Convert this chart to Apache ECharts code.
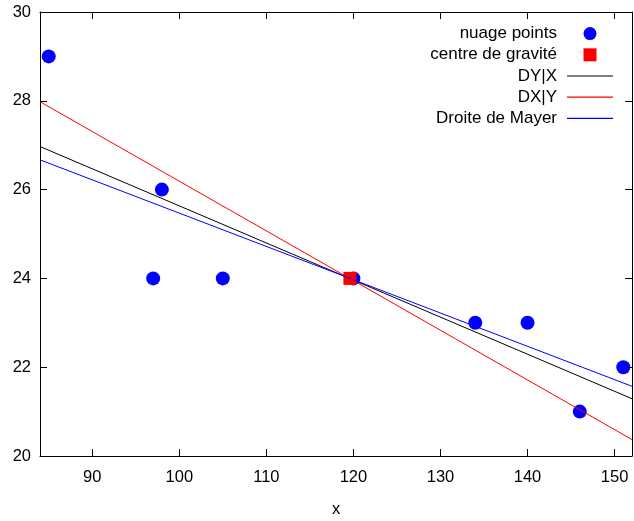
<!DOCTYPE html>
<html>
<head>
<meta charset="utf-8">
<script src="https://cdn.jsdelivr.net/npm/echarts@6/dist/echarts.min.js"></script>
<style>html,body{margin:0;padding:0;background:#fff;}#c{width:634px;height:521px;}</style>
</head>
<body>
<div id="c"></div>
<script>
// Scatter cloud
const pointsX = [85, 97, 98, 105, 120, 134, 140, 146, 151];
const pointsY = [29, 24, 26, 24, 24, 23, 23, 21, 22];
// Centre of gravity
const centreX = [119.6];
const centreY = [24];
// Fitted lines, read at both ends of the x range
const lineX = [84, 152];
const dyxY = [26.97, 21.29];
const dxyY = [27.98, 20.37];
const mayerY = [26.67, 21.57];
// Axis ticks
const xTicks = [90, 100, 110, 120, 130, 140, 150];
const yTicks = [20, 22, 24, 26, 28, 30];
const seriesNames = ['nuage points', 'centre de gravité', 'DY|X', 'DX|Y', 'Droite de Mayer'];

const zip = (xs, ys) => xs.map((x, i) => [x, ys[i]]);
const FONT = 'Liberation Sans';
const axisLineStyle = { color: '#000', width: 1 };
const lineIcon = 'path://M0,0h46v1.2h-46z';

const chart = echarts.init(document.getElementById('c'), null, { renderer: 'canvas' });
chart.setOption({
  animation: false,
  backgroundColor: '#fff',
  textStyle: { fontFamily: FONT },
  grid: { left: 40, right: 2, top: 12, bottom: 65, containLabel: false, outerBoundsMode: 'none' },
  legend: {
    orient: 'vertical',
    right: 21,
    top: 23,
    padding: 0,
    align: 'right',
    itemWidth: 46,
    itemHeight: 13,
    itemGap: 0,
    selectedMode: false,
    textStyle: { fontFamily: FONT, fontSize: 17, color: '#000', lineHeight: 21.2, padding: [0, 5, 0, 0] },
    data: [
      { name: seriesNames[0], icon: 'circle' },
      { name: seriesNames[1], icon: 'path://M0,0h10v10h-10z' },
      { name: seriesNames[2], icon: lineIcon },
      { name: seriesNames[3], icon: lineIcon },
      { name: seriesNames[4], icon: lineIcon }
    ]
  },
  xAxis: [{
    type: 'value', min: 84, max: 152,
    name: 'x', nameLocation: 'middle', nameGap: 45,
    nameTextStyle: { fontFamily: FONT, fontSize: 16.5, color: '#000' },
    axisLine: { onZero: false, lineStyle: axisLineStyle },
    axisTick: { inside: true, length: 7, lineStyle: axisLineStyle, customValues: xTicks },
    axisLabel: { fontFamily: FONT, fontSize: 16.5, color: '#000', margin: 13, customValues: xTicks },
    splitLine: { show: false }
  }, {
    type: 'value', min: 84, max: 152, position: 'top',
    axisLine: { onZero: false, lineStyle: axisLineStyle },
    axisTick: { inside: true, length: 7, lineStyle: axisLineStyle, customValues: xTicks },
    axisLabel: { show: false },
    splitLine: { show: false }
  }],
  yAxis: [{
    type: 'value', min: 20, max: 30, interval: 2,
    axisLine: { show: true, onZero: false, lineStyle: axisLineStyle },
    axisTick: { show: true, inside: true, length: 7, lineStyle: axisLineStyle, customValues: yTicks },
    axisLabel: { fontFamily: FONT, fontSize: 16.5, color: '#000', margin: 9, customValues: yTicks },
    splitLine: { show: false }
  }, {
    type: 'value', min: 20, max: 30, interval: 2, position: 'right',
    axisLine: { show: true, onZero: false, lineStyle: axisLineStyle },
    axisTick: { show: true, inside: true, length: 7, lineStyle: axisLineStyle, customValues: yTicks },
    axisLabel: { show: false },
    splitLine: { show: false }
  }],
  series: [
    {
      name: seriesNames[0], type: 'scatter', symbol: 'circle', symbolSize: 14,
      itemStyle: { color: '#0000ff', opacity: 1 },
      data: zip(pointsX, pointsY)
    },
    {
      name: seriesNames[1], type: 'scatter', symbol: 'rect', symbolSize: 13,
      itemStyle: { color: '#ff0000', opacity: 1 },
      data: zip(centreX, centreY)
    },
    {
      name: seriesNames[2], type: 'line', symbol: 'none',
      lineStyle: { color: '#000000', width: 1 }, itemStyle: { color: '#000000' },
      data: zip(lineX, dyxY)
    },
    {
      name: seriesNames[3], type: 'line', symbol: 'none',
      lineStyle: { color: '#ff0000', width: 1 }, itemStyle: { color: '#ff0000' },
      data: zip(lineX, dxyY)
    },
    {
      name: seriesNames[4], type: 'line', symbol: 'none',
      lineStyle: { color: '#0000ff', width: 1 }, itemStyle: { color: '#0000ff' },
      data: zip(lineX, mayerY)
    }
  ]
});
</script>
</body>
</html>
